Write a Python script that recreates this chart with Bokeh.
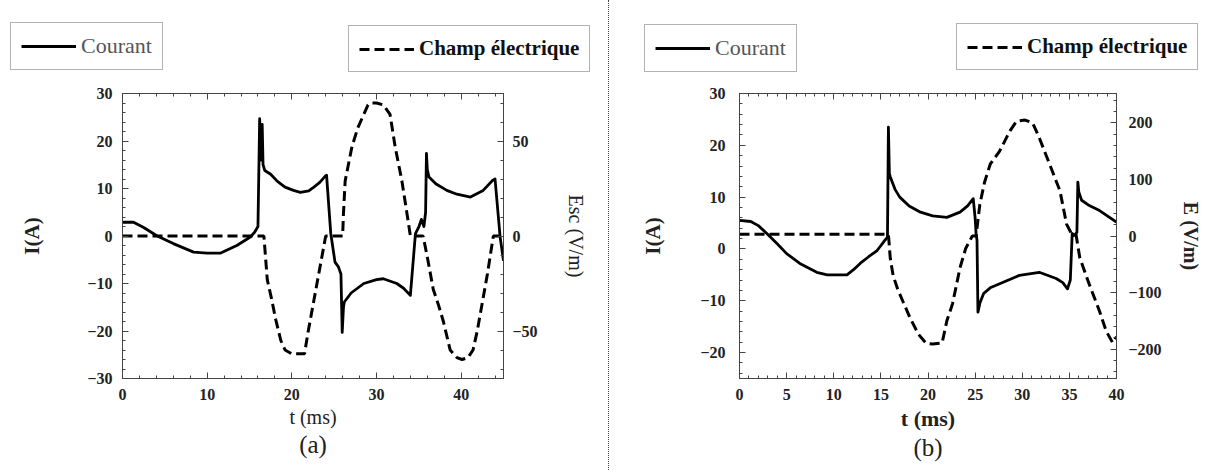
from bokeh.plotting import figure
from bokeh.models import (Range1d, LinearAxis, SingleIntervalTicker, FixedTicker,
                          Legend, LegendItem, Div)
from bokeh.layouts import row, column
from bokeh.embed import file_html
from bokeh.resources import INLINE

# ---------------- data: panel (a) ----------------
t_a_I = [0, 1.3, 2.5, 4.1, 6.0, 8.4, 10.0, 11.6, 13.5, 15.1, 15.6, 16.0, 16.2, 16.35,
         16.5, 16.6, 16.8, 17.5, 18.3, 19.2, 20.2, 21.0, 22.0, 22.6, 23.3, 24.0, 24.1,
         24.6, 25.1, 25.5, 25.8, 25.95, 26.1, 26.2, 27.0, 28.5, 30.0, 30.8, 32.4, 33.2,
         34.0, 34.6, 35.0, 35.3, 35.6, 35.8, 35.9, 36.0, 36.2, 37.0, 38.3, 39.5, 41.1,
         42.6, 43.7, 44.0, 44.6, 45.0]
I_a = [2.9, 2.9, 1.8, 0.0, -1.6, -3.4, -3.6, -3.6, -2.0, -0.2, 0.8, 2.0, 24.7, 16.0,
       23.5, 15.0, 13.8, 13.0, 11.5, 10.3, 9.6, 9.2, 9.5, 10.3, 11.3, 12.7, 12.8,
       0.5, -5.5, -6.5, -8.0, -20.3, -15.0, -13.9, -12.0, -10.0, -9.2, -9.0, -10.0, -11.0,
       -12.5, 0.5, 1.9, 3.5, 2.0, 5.0, 17.4, 14.0, 12.4, 11.0, 9.6, 8.8, 8.2,
       9.6, 11.7, 12.0, -0.2, -5.2]

t_a_E = [0, 16.3, 16.7, 17.1, 17.6, 18.1, 18.7, 19.2, 20.0, 20.7, 21.5, 21.9, 22.6, 23.3,
         24.0, 26.0, 26.1, 26.3, 26.7, 27.1, 27.8, 28.5, 29.0, 29.3, 30.0, 30.8, 31.6,
         32.2, 33.0, 33.8, 34.0, 35.5, 36.0, 36.7, 37.3, 37.9, 38.7, 39.5, 40.1, 40.8,
         41.4, 41.9, 42.5, 43.1, 43.8, 45.0]
E_a = [0, 0, 0, -23, -33, -44, -55, -60, -62, -62, -62, -51, -34, -17,
       0, 0, 12, 29, 38, 47, 57, 64, 69, 70, 70, 69, 64,
       47, 29, 6, 0, 0, -11, -28, -36, -45, -60, -64, -65, -64,
       -60, -50, -35, -20, 0, 0]

# ---------------- data: panel (b) ----------------
t_b_I = [0, 1.2, 2.0, 2.9, 4.0, 5.0, 6.4, 8.2, 9.3, 11.4, 12.1, 12.8, 13.7, 14.6, 15.4,
         15.7, 15.8, 15.9, 16.0, 16.5, 17.0, 18.0, 19.2, 20.5, 22.0, 23.4, 24.2, 24.8,
         25.0, 25.1, 25.2, 25.3, 25.5, 25.9, 26.6, 27.6, 29.7, 31.8, 33.6, 34.3, 34.8,
         35.1, 35.3, 35.5, 35.8, 35.9, 36.0, 36.3, 37.0, 38.2, 40.0]
I_b = [5.5, 5.3, 4.5, 3.0, 1.0, -0.9, -2.8, -4.5, -5.0, -5.0, -4.0, -2.8, -1.5, -0.3, 1.6,
       2.3, 23.5, 14.6, 13.9, 11.5, 10.0, 8.3, 7.1, 6.4, 6.1, 7.1, 8.3, 9.7,
       6.0, 3.0, 1.7, -12.2, -10.5, -8.6, -7.5, -6.7, -5.1, -4.5, -5.7, -6.5, -7.7,
       -6.0, 3.0, 2.6, 3.2, 12.9, 11.0, 9.4, 8.5, 7.4, 5.2]

t_b_E = [0, 15.0, 15.8, 16.0, 16.3, 16.8, 17.4, 18.1, 19.0, 19.8, 20.5, 21.5, 22.0, 22.6,
         23.4, 24.0, 24.7, 25.1, 25.5, 26.0, 26.6, 27.6, 28.7, 29.4, 30.3, 31.1, 31.8,
         32.9, 34.0, 34.7, 35.2, 35.7, 36.1, 37.1, 38.2, 38.9, 39.6, 40.0]
E_b = [3, 3, 3, -40, -70, -95, -118, -145, -174, -190, -191, -189, -150, -120,
       -56, -22, 0, 0, 56, 95, 127, 150, 186, 203, 205, 200, 174,
       127, 80, 21, 5, 3, -38, -85, -133, -168, -189, -178]

x_ticks_a = 10
x_ticks_b = 5

SERIF = "Liberation Serif"
INK = "#222222"
AXC = "#444444"
I_STYLE = dict(line_color="black", line_width=2.8, line_join="round")
E_STYLE = dict(line_color="black", line_width=3, line_dash="10 5")


def style_axis(ax, size, bold, standoff):
    ax.major_label_text_font = SERIF
    ax.major_label_text_font_size = size
    ax.major_label_text_font_style = "bold" if bold else "normal"
    ax.major_label_text_color = INK
    ax.major_label_standoff = standoff
    ax.major_tick_in = 6
    ax.major_tick_out = 0
    ax.minor_tick_in = 3
    ax.minor_tick_out = 0
    ax.axis_line_color = AXC
    ax.major_tick_line_color = AXC
    ax.minor_tick_line_color = AXC


def axis_label(ax, text, size, bold, standoff):
    ax.axis_label = text
    ax.axis_label_text_font = SERIF
    ax.axis_label_text_font_size = size
    ax.axis_label_text_font_style = "bold" if bold else "normal"
    ax.axis_label_text_color = INK
    ax.axis_label_standoff = standoff


def make_plot(width, mbl, mbr, xr, yr, er, xint, yint, eint, t_I, I, t_E, E,
              lab_bold, xstand, ystand, estand, ylab_stand, elab, elab_bold,
              elab_stand, tlab_size, tlab_stand, tag, tag_stand):
    p = figure(width=width, height=390, x_range=Range1d(*xr), y_range=Range1d(*yr),
               output_backend="svg", toolbar_location=None,
               min_border_left=mbl, min_border_right=mbr,
               min_border_top=13, min_border_bottom=92)
    p.frame_align = False
    p.extra_y_ranges = {"E": Range1d(*er)}
    p.grid.visible = False
    p.outline_line_color = "#333333"
    p.outline_line_width = 1

    xa = p.xaxis[0]
    xa.ticker = SingleIntervalTicker(interval=xint, num_minor_ticks=5)
    style_axis(xa, "16px", True, xstand)
    axis_label(xa, "t (ms)", tlab_size, lab_bold, tlab_stand)

    ya = p.yaxis[0]
    ya.ticker = SingleIntervalTicker(interval=yint, num_minor_ticks=5)
    style_axis(ya, "16px", True, ystand)
    axis_label(ya, "I(A)", "21px", True, ylab_stand)

    ea = LinearAxis(y_range_name="E",
                    ticker=SingleIntervalTicker(interval=eint, num_minor_ticks=5))
    style_axis(ea, "16px", True, estand)
    axis_label(ea, elab, "20px", elab_bold, elab_stand)
    p.add_layout(ea, "right")

    top = LinearAxis(ticker=SingleIntervalTicker(interval=xint, num_minor_ticks=5))
    style_axis(top, "0px", False, 0)
    top.major_label_text_color = None
    p.add_layout(top, "above")

    tg = LinearAxis(ticker=FixedTicker(ticks=[]))
    tg.axis_line_color = None
    tg.major_tick_line_color = None
    tg.minor_tick_line_color = None
    tg.major_label_text_font_size = "0px"
    tg.major_label_standoff = 0
    axis_label(tg, tag, "25px", False, tag_stand)
    p.add_layout(tg, "below")

    p.line(t_I, I, **I_STYLE)
    p.line(t_E, E, y_range_name="E", **E_STYLE)
    return p


def make_legends(width, t_I, I, t_E, E, pos_i, pos_e):
    lf = figure(width=width, height=80, x_range=Range1d(0, width), y_range=Range1d(0, 80),
                output_backend="svg", toolbar_location=None,
                x_axis_type=None, y_axis_type=None, min_border=0)
    lf.frame_align = False
    lf.outline_line_color = None
    lf.grid.visible = False
    # hidden copies of the series: only their legend samples are drawn here
    rI = lf.line(t_I, I, visible=False, **I_STYLE)
    rE = lf.line(t_E, E, visible=False, **E_STYLE)
    common = dict(orientation="horizontal", label_text_font=SERIF,
                  glyph_width=55, glyph_height=22,
                  label_height=22, label_standoff=5, padding=10, margin=0,
                  border_line_color="#666666", border_line_width=1.5,
                  background_fill_color="white", background_fill_alpha=1)
    l1 = Legend(items=[LegendItem(label="Courant", renderers=[rI])],
                location=pos_i, label_text_color="#555555",
                label_text_font_size="22px", **common)
    l2 = Legend(items=[LegendItem(label="Champ électrique", renderers=[rE])],
                location=pos_e, label_text_color="#111111",
                label_text_font_size="21px", label_text_font_style="bold", **common)
    lf.add_layout(l1, "center")
    lf.add_layout(l2, "center")
    return lf


pa = make_plot(608, 122, 105, (0, 45), (-30, 30), (-75, 75), x_ticks_a, 10, 50,
               t_a_I, I_a, t_a_E, E_a, False, 10, 10, 9, 40,
               "Esc (V/m)", False, 24, "20px", 3, "(a)", 0)
pb = make_plot(595, 130, 86, (0, 40), (-25, 30), (-252, 252), x_ticks_b, 10, 100,
               t_b_I, I_b, t_b_E, E_b, True, 10, 14, 12, 32,
               "E (V/m)", True, 15, "22px", 3, "(b)", 0)

la = make_legends(608, t_a_I, I_a, t_a_E, E_a, (10, 10), (348, 8))
lb = make_legends(595, t_b_I, I_b, t_b_E, E_b, (35, 8), (347, 10))

sep = Div(text="", width=1, height=470, margin=0,
          styles={"border-left": "1px dotted #444444", "height": "470px"})

layout = row(column(la, pa, spacing=0), sep, column(lb, pb, spacing=0), spacing=0)
open("out.html", "w").write(file_html(layout, INLINE))
